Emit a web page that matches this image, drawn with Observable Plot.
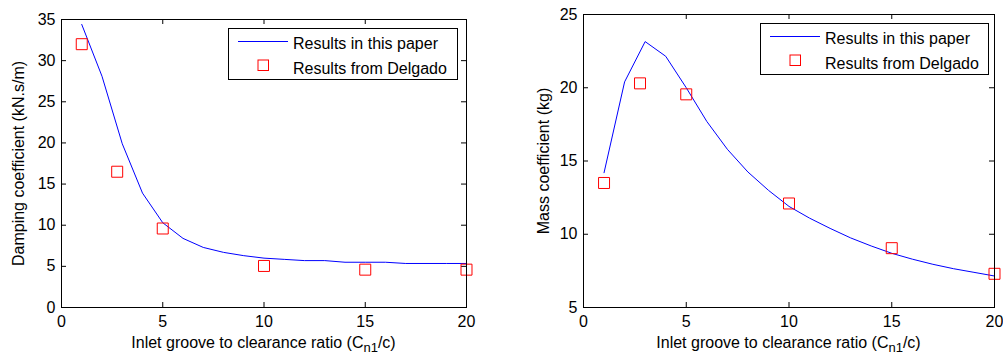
<!DOCTYPE html>
<html><head><meta charset="utf-8">
<script src="https://cdn.jsdelivr.net/npm/d3@7"></script>
<script src="https://cdn.jsdelivr.net/npm/@observablehq/plot@0.6"></script>
<style>
body{margin:0;background:#fff;font-family:"Liberation Sans",Arial,sans-serif;}
#wrap{display:flex;width:1003px;height:358px;overflow:hidden}
.panel{position:relative;height:358px;flex:none}
.legend{position:absolute;background:#fff}
</style></head>
<body>
<div id="wrap"></div>
<script>
// ---- data ----
const xTicks = [0, 5, 10, 15, 20];
const dampTicks = [0, 5, 10, 15, 20, 25, 30, 35];
const massTicks = [5, 10, 15, 20, 25];
const lineX = [1, 2, 3, 4, 5, 6, 7, 8, 9, 10, 11, 12, 13, 14, 15, 16, 17, 18, 19, 20];
const dampLine = [34.4, 28.1, 19.9, 13.9, 10.3, 8.4, 7.3, 6.7, 6.3, 6.0, 5.85, 5.7, 5.7, 5.5, 5.5, 5.5, 5.35, 5.35, 5.35, 5.35];
const massLine = [14.2, 20.4, 23.15, 22.15, 20.0, 17.7, 15.8, 14.25, 13.0, 11.9, 11.1, 10.4, 9.75, 9.2, 8.7, 8.3, 7.95, 7.65, 7.4, 7.15];
const expX = [1, 2.75, 5, 10, 15, 20];
const dampExp = [32.0, 16.5, 9.6, 5.05, 4.6, 4.6];
const massExp = [13.5, 20.3, 19.55, 12.1, 9.05, 7.3];
const seriesNames = ["Results in this paper", "Results from Delgado"];
const xLabelParts = ["Inlet groove to clearance ratio (C", "n1", "/c)"];

const FONT = "Liberation Sans, Arial, sans-serif";

function makePanel({width, mt, mr, mb, ml, yDomain, yTicks, yLine, yExp, ylabel, labelOffset, legend}) {
  const H = 358;
  const pw = width - ml - mr, ph = H - mt - mb, t = 5;
  const plot = Plot.plot({
    width, height: H, marginTop: mt, marginRight: mr, marginBottom: mb, marginLeft: ml,
    style: {fontFamily: FONT, fontSize: "16px", color: "#000", background: "#fff", overflow: "visible"},
    x: {domain: [0, 20]},
    y: {domain: yDomain},
    marks: [
      Plot.axisX(xTicks, {tickSize: 0, tickPadding: 8, label: null, fontSize: 16}),
      Plot.axisY(yTicks, {tickSize: 0, tickPadding: 6, label: ylabel, labelAnchor: "center", labelOffset, labelArrow: "none", fontSize: 16}),
      Plot.tickX(xTicks, {x: d => d, insetTop: ph - t, stroke: "black"}),
      Plot.tickX(xTicks, {x: d => d, insetBottom: ph - t, stroke: "black"}),
      Plot.tickY(yTicks, {y: d => d, insetLeft: pw - t, stroke: "black"}),
      Plot.tickY(yTicks, {y: d => d, insetRight: pw - t, stroke: "black"}),
      Plot.line(yLine, {x: lineX, y: yLine, stroke: "#0000ff", strokeWidth: 1}),
      Plot.dot(yExp, {x: expX, y: yExp, symbol: "square", r: 6.2, stroke: "#ff0000", fill: "none", strokeWidth: 1}),
      Plot.frame({stroke: "black"})
    ]
  });
  const svg = d3.select(plot);
  const tx = svg.append("text")
    .attr("x", ml + pw / 2).attr("y", 348)
    .attr("text-anchor", "middle").attr("font-size", 16).attr("font-family", FONT).attr("fill", "#000");
  tx.append("tspan").text(xLabelParts[0]);
  tx.append("tspan").attr("dy", 4).attr("font-size", 13).text(xLabelParts[1]);
  tx.append("tspan").attr("dy", -4).text(xLabelParts[2]);

  const div = document.createElement("div");
  div.className = "panel";
  div.style.width = width + "px";
  div.appendChild(plot);

  // legend
  const lg = d3.create("svg").attr("class", "legend")
    .attr("width", legend.w).attr("height", legend.h)
    .style("left", legend.x + "px").style("top", legend.y + "px");
  lg.append("rect").attr("x", 0.5).attr("y", 0.5).attr("width", legend.w - 1).attr("height", legend.h - 1)
    .attr("fill", "#fff").attr("stroke", "#000");
  lg.append("line").attr("x1", 10).attr("x2", 60).attr("y1", 13.5).attr("y2", 13.5).attr("stroke", "#0000ff");
  lg.append("rect").attr("x", 30).attr("y", 32).attr("width", 10.5).attr("height", 10.5)
    .attr("fill", "none").attr("stroke", "#ff0000");
  lg.append("text").attr("x", 65).attr("y", 21).attr("font-size", 16).attr("font-family", FONT).text(seriesNames[0]);
  lg.append("text").attr("x", 65).attr("y", 45.5).attr("font-size", 16).attr("font-family", FONT).text(seriesNames[1]);
  div.appendChild(lg.node());
  return div;
}

const wrap = document.getElementById("wrap");
wrap.appendChild(makePanel({
  width: 500, mt: 19, mr: 34, mb: 51, ml: 61,
  yDomain: [0, 35], yTicks: dampTicks, yLine: dampLine, yExp: dampExp,
  ylabel: "Damping coefficient (kN.s/m)", labelOffset: 49,
  legend: {x: 228, y: 28, w: 230, h: 52}
}));
wrap.appendChild(makePanel({
  width: 503, mt: 14, mr: 9, mb: 51, ml: 83,
  yDomain: [5, 25], yTicks: massTicks, yLine: massLine, yExp: massExp,
  ylabel: "Mass coefficient (kg)", labelOffset: 46,
  legend: {x: 260, y: 23, w: 229, h: 52}
}));
</script>
</body></html>
